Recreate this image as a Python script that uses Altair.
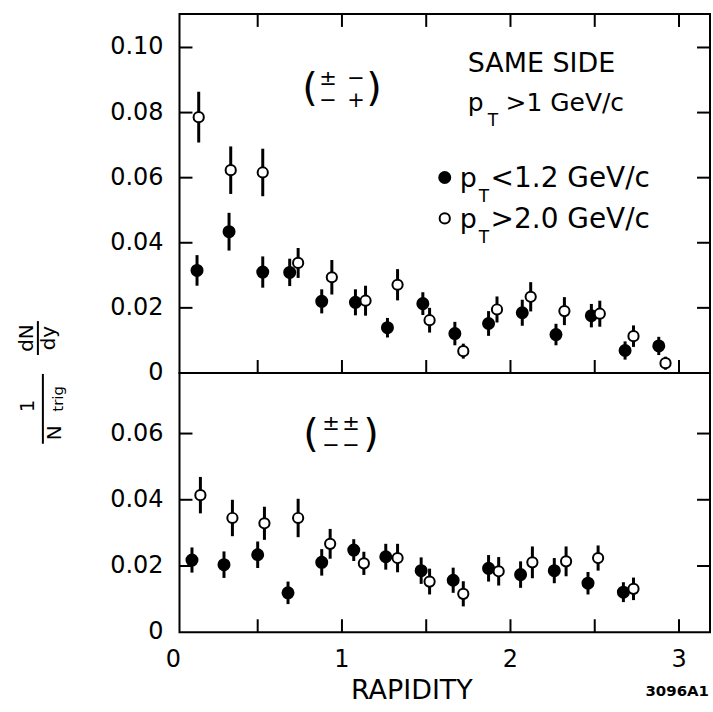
import altair as alt
import pandas as pd

# ---------------- data ----------------
# upper panel: opposite-sign pairs (± ∓)
top_filled_x = [0.14, 0.33, 0.53, 0.69, 0.88, 1.08, 1.27, 1.48, 1.67, 1.87, 2.07, 2.27, 2.48, 2.68, 2.88]
top_filled_y = [0.0315, 0.0434, 0.0310, 0.0309, 0.0220, 0.0217, 0.0139, 0.0213, 0.0121, 0.0152,
                0.0185, 0.0118, 0.0176, 0.0069, 0.0083]
top_filled_err = [0.0047, 0.0058, 0.0048, 0.0042, 0.0037, 0.0040, 0.0030, 0.0035, 0.0036, 0.0038,
                  0.0040, 0.0033, 0.0036, 0.0028, 0.0028]

top_open_x = [0.15, 0.34, 0.53, 0.74, 0.94, 1.14, 1.33, 1.52, 1.72, 1.92, 2.12, 2.32, 2.53, 2.73, 2.92]
top_open_y = [0.0786, 0.0623, 0.0616, 0.0338, 0.0294, 0.0222, 0.0271, 0.0162, 0.0067, 0.0195,
              0.0234, 0.0190, 0.0182, 0.0113, 0.0030]
top_open_err = [0.0078, 0.0073, 0.0073, 0.0046, 0.0053, 0.0046, 0.0048, 0.0038, 0.0023, 0.0040,
                0.0045, 0.0043, 0.0040, 0.0033, 0.0020]

# lower panel: same-sign pairs (± ±)
bot_filled_x = [0.11, 0.30, 0.50, 0.68, 0.88, 1.07, 1.26, 1.47, 1.66, 1.87, 2.06, 2.26, 2.46, 2.67]
bot_filled_y = [0.0218, 0.0204, 0.0234, 0.0119, 0.0211, 0.0248, 0.0228, 0.0186, 0.0157, 0.0193,
                0.0174, 0.0186, 0.0148, 0.0121]
bot_filled_err = [0.0038, 0.0040, 0.0040, 0.0034, 0.0040, 0.0033, 0.0039, 0.0040, 0.0038, 0.0040,
                  0.0040, 0.0038, 0.0034, 0.0030]

bot_open_x = [0.16, 0.35, 0.54, 0.74, 0.93, 1.13, 1.33, 1.52, 1.72, 1.93, 2.13, 2.33, 2.52, 2.73]
bot_open_y = [0.0414, 0.0345, 0.0329, 0.0345, 0.0267, 0.0208, 0.0224, 0.0153, 0.0116, 0.0184,
              0.0211, 0.0214, 0.0224, 0.0131]
bot_open_err = [0.0055, 0.0055, 0.0050, 0.0058, 0.0045, 0.0035, 0.0043, 0.0039, 0.0038, 0.0043,
                0.0048, 0.0045, 0.0038, 0.0034]

x_tick_values = [0.5, 1.0, 1.5, 2.0, 2.5, 3.0]
x_label_values = [0, 1, 2, 3]
top_y_labels = [0, 0.02, 0.04, 0.06, 0.08, 0.10]
bot_y_labels = [0, 0.02, 0.04, 0.06]

# ---------------- layout ----------------
FONT = "DejaVu Sans"
W = 532
H_TOP = 360
H_BOT = 260
XS = alt.Scale(domain=[0.036, 3.184], nice=False, zero=False)


def txt(t, x, y, size=25, align="left", baseline="alphabetic", weight="normal", angle=0):
    return alt.Chart(pd.DataFrame({"t": [t]})).mark_text(
        align=align, baseline=baseline, fontSize=size, fontWeight=weight,
        angle=angle, font=FONT, color="black"
    ).encode(x=alt.value(x), y=alt.value(y), text="t:N")


def vbar(x, y1, y2):
    return alt.Chart(pd.DataFrame({"a": [0]})).mark_rule(color="black", strokeWidth=2).encode(
        x=alt.value(x), y=alt.value(y1), y2=alt.value(y2))


def panel(fx, fy, fe, ox, oy, oe, ydom, h, ylabels, top_ticks):
    df = pd.DataFrame({
        "x": fx + ox,
        "y": fy + oy,
        "err": fe + oe,
        "kind": ["filled"] * len(fx) + ["open"] * len(ox),
    })
    ys = alt.Scale(domain=ydom, nice=False, zero=False)
    base = alt.Chart(df).transform_calculate(lo="datum.y - datum.err", hi="datum.y + datum.err")
    xenc = alt.X("x:Q", scale=XS, axis=None)

    def bars(kind):
        return base.transform_filter(alt.datum.kind == kind).mark_rule(
            color="black", strokeWidth=3
        ).encode(x=xenc, y=alt.Y("lo:Q", scale=ys, axis=None), y2="hi:Q")

    filled_pts = base.transform_filter(alt.datum.kind == "filled").mark_point(
        shape="circle", filled=True, color="black", size=170, opacity=1
    ).encode(x=xenc, y=alt.Y("y:Q", scale=ys, axis=None))
    open_pts = base.transform_filter(alt.datum.kind == "open").mark_point(
        shape="circle", filled=True, fill="white", stroke="black", strokeWidth=2,
        size=105, opacity=1
    ).encode(x=xenc, y=alt.Y("y:Q", scale=ys, axis=None))

    ylab = alt.Chart(pd.DataFrame({"v": ylabels})).transform_calculate(
        lab="datum.v == 0 ? '0' : format(datum.v, '.2f')"
    ).mark_text(
        align="right", baseline="middle", fontSize=24, font=FONT, color="black"
    ).encode(y=alt.Y("v:Q", scale=ys, axis=None), x=alt.value(-16), text="lab:N")

    yt = pd.DataFrame({"ty": [v for v in ylabels if v > 0]})
    xt = pd.DataFrame({"tx": x_tick_values})
    tick_layers = [
        alt.Chart(yt).mark_rule(color="black", strokeWidth=2).encode(
            y=alt.Y("ty:Q", scale=ys, axis=None), x=alt.value(0), x2=alt.value(13)),
        alt.Chart(yt).mark_rule(color="black", strokeWidth=2).encode(
            y=alt.Y("ty:Q", scale=ys, axis=None), x=alt.value(W - 13), x2=alt.value(W)),
        alt.Chart(xt).mark_rule(color="black", strokeWidth=2).encode(
            x=alt.X("tx:Q", scale=XS, axis=None), y=alt.value(h - 13), y2=alt.value(h)),
    ]
    if top_ticks:
        tick_layers.append(
            alt.Chart(xt).mark_rule(color="black", strokeWidth=2).encode(
                x=alt.X("tx:Q", scale=XS, axis=None), y=alt.value(0), y2=alt.value(13)))

    return [bars("filled"), filled_pts, bars("open"), open_pts, ylab] + tick_layers


# ---------------- upper panel ----------------
top_layers = panel(top_filled_x, top_filled_y, top_filled_err,
                   top_open_x, top_open_y, top_open_err,
                   [0, 0.1103], H_TOP, top_y_labels, True)

top_annot = [
    txt("SAME SIDE", 289, 58, size=27),
    txt("p", 289, 97), txt("T", 309, 112, size=17), txt(">1 GeV/c", 327, 97),
    alt.Chart(pd.DataFrame({"a": [0]})).mark_point(
        shape="circle", filled=True, color="black", size=170, opacity=1
    ).encode(x=alt.value(266), y=alt.value(164)),
    txt("p", 281, 174, size=27), txt("T", 300, 189, size=17), txt("<1.2 GeV/c", 312, 174, size=28),
    alt.Chart(pd.DataFrame({"a": [0]})).mark_point(
        shape="circle", filled=True, fill="white", stroke="black", strokeWidth=2, size=105, opacity=1
    ).encode(x=alt.value(266), y=alt.value(205)),
    txt("p", 281, 215, size=27), txt("T", 300, 230, size=17), txt(">2.0 GeV/c", 312, 215, size=28),
    # (± ∓) opposite sign
    txt("(", 131, 75, size=40, align="center", baseline="middle"),
    txt(")", 195, 75, size=40, align="center", baseline="middle"),
    txt("±", 149, 65, size=21, align="center", baseline="middle"),
    txt("−", 177, 65, size=21, align="center", baseline="middle"),
    txt("−", 149, 87, size=21, align="center", baseline="middle"),
    txt("+", 177, 87, size=21, align="center", baseline="middle"),
    # y title: 1/N_trig dN/dy (rotated)
    txt("dN", -153, 325, size=20, align="center", baseline="middle", angle=270),
    vbar(-142, 308, 342),
    txt("dy", -131, 325, size=20, align="center", baseline="middle", angle=270),
    txt("1", -152, 393, size=20, align="center", baseline="middle", angle=270),
    vbar(-137, 361, 431),
    txt("N", -125, 420, size=20, align="center", baseline="middle", angle=270),
    txt("trig", -122, 386, size=15, align="center", baseline="middle", angle=270),
]

top = alt.layer(*(top_layers + top_annot)).properties(width=W, height=H_TOP)

# ---------------- lower panel ----------------
bot_layers = panel(bot_filled_x, bot_filled_y, bot_filled_err,
                   bot_open_x, bot_open_y, bot_open_err,
                   [0, 0.0783], H_BOT, bot_y_labels, False)

xlab = alt.Chart(pd.DataFrame({"v": x_label_values})).mark_text(
    fontSize=24, font=FONT, color="black", baseline="middle", align="center"
).encode(x=alt.X("v:Q", scale=XS, axis=None), y=alt.value(H_BOT + 28), text=alt.Text("v:Q", format="d"))

bot_annot = [
    xlab,
    txt("RAPIDITY", 233, H_BOT + 59, size=27, align="center", baseline="middle"),
    txt("3096A1", 531, H_BOT + 59, size=15, align="right", baseline="middle", weight="bold"),
    # (± ±) same sign
    txt("(", 132, 62, size=40, align="center", baseline="middle"),
    txt(")", 192, 62, size=40, align="center", baseline="middle"),
    txt("±", 152, 51, size=21, align="center", baseline="middle"),
    txt("±", 172, 51, size=21, align="center", baseline="middle"),
    txt("−", 152, 73, size=21, align="center", baseline="middle"),
    txt("−", 172, 73, size=21, align="center", baseline="middle"),
]

bot = alt.layer(*(bot_layers + bot_annot)).properties(width=W, height=H_BOT)

chart = alt.vconcat(top, bot, spacing=0, bounds="flush").resolve_scale(
    x="independent", y="independent"
).properties(
    padding={"left": 16, "top": 11, "right": 1, "bottom": 5},
    background="white",
).configure(
    font=FONT
).configure_view(
    stroke="black", strokeWidth=2
)

chart.save("out.html", embed_options={"renderer": "svg", "actions": False})
